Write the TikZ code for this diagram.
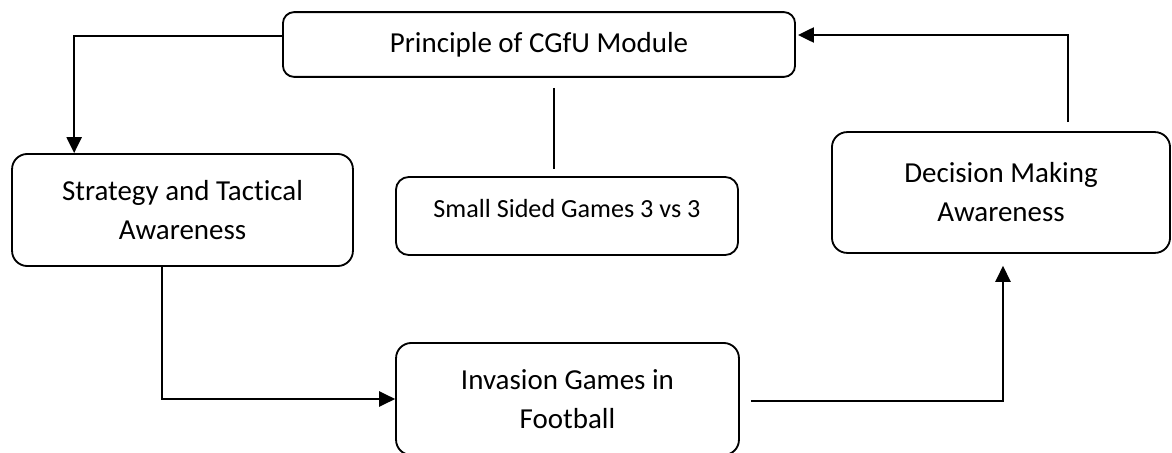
\documentclass[tikz,border=0pt]{standalone}
\usepackage{fontspec}
\setmainfont{Carlito}[Ligatures=NoCommon]
\usepackage{tikz}
\usetikzlibrary{arrows.meta, calc}

\begin{document}
\begin{tikzpicture}[x=0.025cm, y=-0.025cm,
    stagebox/.style={draw, line width=1.3pt, rounded corners=0.38cm, align=center,
        font=\fontsize{20.6pt}{27.7pt}\selectfont},
    link/.style={line width=1.3pt},
    arr/.style={link, -{Triangle[length=0.4cm, width=0.38cm]}}]
    \useasboundingbox (0, 0) rectangle (1172, 453);

    \node[stagebox, rounded corners=0.28cm, minimum width=12.8cm, minimum height=1.62cm] (principle) at (539, 44.5) {Principle of CGfU Module};
    \node[stagebox, minimum width=8.52cm, minimum height=2.8cm] (strategy) at (182.5, 210) {Strategy and Tactical\\Awareness};
    \node[stagebox, rounded corners=0.32cm, minimum width=8.55cm, minimum height=1.95cm,
        font=\fontsize{18.6pt}{24pt}\selectfont, text height=0.5cm, text depth=0.45cm] (small) at (567, 216) {Small Sided Games 3 vs 3};
    \node[stagebox, minimum width=8.45cm, minimum height=3.02cm] (decision) at (1001, 192.5) {Decision Making\\Awareness};
    \node[stagebox, minimum width=8.57cm, minimum height=2.8cm] (invasion) at (567.5, 399) {Invasion Games in\\Football};

    \draw[arr] ($(principle.west)+(0,-8.5)$) -| ($(strategy.north west)+(63,0)$);
    \draw[link] ($(principle.south)+(15,10)$) -- ($(small.north)+(-13,-7)$);
    \draw[arr] ($(strategy.south)+(-20.5,0)$) |- (invasion.west);
    \draw[arr] ($(invasion.east)+(11,2)$) -| ($(decision.south)+(2,12)$);
    \draw[arr] ($(decision.north)+(67,-9)$) |- ($(principle.east)+(2,-9.5)$);
\end{tikzpicture}
\end{document}
